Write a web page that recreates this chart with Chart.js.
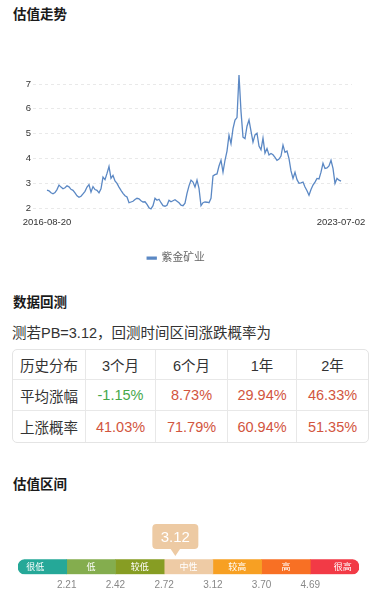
<!DOCTYPE html>
<html>
<head>
<meta charset="utf-8">
<script src="https://cdn.jsdelivr.net/npm/chart.js@4.4.0/dist/chart.umd.min.js"></script>
<style>
	body { margin: 0; width: 378px; height: 600px; background: #fff; position: relative; overflow: hidden;
		font-family: "Liberation Sans", "Noto Sans CJK SC", sans-serif; color: #333; }
	.title { position: absolute; left: 13px; font-size: 13.5px; font-weight: bold; line-height: 20px; color: #1a1a1a; }
	.sub { position: absolute; left: 12px; top: 323px; font-size: 14.5px; line-height: 20px; color: #333; }
	#trend-wrap { position: absolute; left: 0; top: 60px; width: 378px; height: 215px; }
	#range-wrap { position: absolute; left: 0; top: 515px; width: 378px; height: 85px; }
	#bt { position: absolute; left: 12px; top: 349px; width: 355px; border-collapse: separate; border-spacing: 0;
		border: 1px solid #e4e4e4; border-radius: 5px; table-layout: fixed; font-size: 14.5px; }
	#bt td { padding: 0; text-align: center; border-right: 1px solid #e8e8e8; border-bottom: 1px solid #e8e8e8; }
	#bt tr td:last-child { border-right: none; }
	#bt tr:last-child td { border-bottom: none; }
	#bt .up { color: #d2553e; }
	#bt .down { color: #45a84a; }
</style>
</head>
<body>
<div class="title" style="top:5px">估值走势</div>
<div id="trend-wrap"><canvas id="trend-chart"></canvas></div>

<div class="title" style="top:293px">数据回测</div>
<div class="sub">测若PB=3.12，回测时间区间涨跌概率为</div>
<table id="bt"></table>

<div class="title" style="top:475px">估值区间</div>
<div id="range-wrap"><canvas id="range-chart"></canvas></div>

<script>
// PB trend, one value every ~2 weeks
var stockName = '紫金矿业';
var xLabels = ['2016-08-20', '2023-07-02'];
var yTicks = [2, 3, 4, 5, 6, 7];
var pbValues = [
	2.73, 2.70, 2.62, 2.58, 2.63, 2.75, 2.93, 2.85, 2.78, 2.82,
	2.90, 2.86, 2.76, 2.72, 2.62, 2.50, 2.44, 2.48, 2.58, 2.68,
	2.85, 2.95, 2.65, 2.87, 2.75, 2.72, 2.62, 2.78, 3.25, 3.15,
	3.40, 3.68, 3.20, 3.32, 3.10, 3.00, 2.85, 2.72, 2.60, 2.50,
	2.45, 2.22, 2.25, 2.28, 2.35, 2.40, 2.38, 2.30, 2.25, 2.26,
	2.15, 2.02, 1.97, 2.10, 2.40, 2.32, 2.36, 2.22, 2.10, 2.08,
	2.12, 2.32, 2.26, 2.30, 2.34, 2.28, 2.22, 2.12, 2.10, 2.20,
	2.60, 2.90, 3.13, 3.05, 2.85, 3.13, 2.80, 2.10, 2.22, 2.25,
	2.24, 2.22, 2.40, 3.30, 3.35, 3.38, 3.70, 3.93, 3.45, 3.93,
	4.30, 4.94, 4.60, 5.20, 5.55, 5.65, 7.36, 5.90, 4.86, 4.80,
	5.30, 5.55, 5.10, 4.66, 4.95, 5.02, 4.50, 4.35, 4.82, 4.22,
	4.40, 4.14, 4.20, 4.15, 4.05, 3.93, 3.98, 4.10, 4.54, 4.25,
	4.30, 4.00, 3.50, 3.20, 3.45, 3.15, 3.00, 3.02, 3.05, 2.85,
	2.70, 2.52, 2.75, 2.93, 3.05, 3.20, 3.18, 3.45, 3.81, 3.60,
	3.62, 3.70, 3.93, 3.60, 3.00, 3.20, 3.13, 3.09
];

// back-test table
var periods = ['3个月', '6个月', '1年', '2年'];
var avgChange = [-1.15, 8.73, 29.94, 46.33];
var upProb = [41.03, 71.79, 60.94, 51.35];

// valuation bands
var bandNames = ['很低', '低', '较低', '中性', '较高', '高', '很高'];
var bandWidths = [1, 1, 1, 1, 1, 1, 1];
var bandColors = ['#25a898', '#84ad4e', '#879d23', '#eecba5', '#f7a023', '#f87024', '#f23a46'];
var bandThresholds = ['2.21', '2.42', '2.72', '3.12', '3.70', '4.69'];
var currentPB = '3.12';
var markerPos = 3.23;

function buildTable () {
	var html = '<colgroup><col style="width:73px"><col style="width:70px"><col style="width:72px"><col style="width:69px"><col style="width:71px"></colgroup>';
	html += '<tr style="height:30px"><td>历史分布</td>';
	periods.forEach(function (p) { html += '<td>' + p + '</td>'; });
	html += '</tr><tr style="height:31px"><td>平均涨幅</td>';
	avgChange.forEach(function (v) {
		html += '<td class="' + (v < 0 ? 'down' : 'up') + '">' + v.toFixed(2) + '%</td>';
	});
	html += '</tr><tr style="height:31px"><td>上涨概率</td>';
	upProb.forEach(function (v) {
		html += '<td class="' + (v < 0 ? 'down' : 'up') + '">' + v.toFixed(2) + '%</td>';
	});
	html += '</tr>';
	document.getElementById('bt').innerHTML = html;
}

function createTrendChart () {
	var last = pbValues.length - 1;
	new Chart('trend-chart', {
		type: 'line',
		data: {
			datasets: [{
				label: stockName,
				data: pbValues.map(function (v, i) { return {x: i, y: v}; }),
				borderColor: '#5b88c4',
				backgroundColor: '#5b88c4',
				borderWidth: 1.3,
				pointRadius: 0,
				tension: 0,
				clip: false
			}]
		},
		options: {
			responsive: true,
			maintainAspectRatio: false,
			animation: false,
			layout: { padding: { top: 11.6, right: 26, bottom: 1.5, left: 0 } },
			plugins: {
				tooltip: { enabled: false },
				legend: {
					position: 'bottom',
					labels: { boxWidth: 9, boxHeight: 2, padding: 10, color: '#666',
						font: { size: 10.8, family: '"Liberation Sans", "Noto Sans CJK SC", sans-serif' } }
				}
			},
			scales: {
				x: {
					type: 'linear',
					min: -7,
					max: last + 5.5,
					grid: { display: false, drawTicks: false },
					border: { display: false },
					afterBuildTicks: function (s) { s.ticks = [{value: 0}, {value: last}]; },
					afterFit: function (s) { s.height = 34.5; },
					ticks: {
						autoSkip: false, maxRotation: 0, padding: 8.5, color: '#333',
						font: { size: 9.5, family: '"Liberation Sans", sans-serif' },
						callback: function (v) { return v === 0 ? xLabels[0] : xLabels[1]; }
					}
				},
				y: {
					min: 2,
					max: 7.5,
					grid: { color: '#e9e9e9', drawTicks: false },
					border: { display: false, dash: [3, 3] },
					afterBuildTicks: function (s) { s.ticks = yTicks.map(function (v) { return {value: v}; }); },
					afterFit: function (s) { s.width = 33; },
					ticks: { padding: 2, color: '#333', font: { size: 9.5, family: '"Liberation Sans", sans-serif' } }
				}
			}
		}
	});
}

var bandLabels = {
	id: 'bandLabels',
	afterDatasetsDraw: function (chart) {
		var ctx = chart.ctx;
		ctx.save();
		ctx.fillStyle = '#fff';
		ctx.font = '9px "Noto Sans CJK SC", sans-serif';
		ctx.textAlign = 'center';
		ctx.textBaseline = 'middle';
		chart.data.datasets.forEach(function (ds, i) {
			var bar = chart.getDatasetMeta(i).data[0];
			var cx = (bar.x + bar.base) / 2;
			if (i === 0) cx -= 7;
			if (i === chart.data.datasets.length - 1) cx += 8;
			ctx.fillText(ds.label, cx, bar.y);
		});
		ctx.restore();
	},
	afterDraw: function (chart) {
		var ctx = chart.ctx;
		var x = chart.scales.x.getPixelForValue(markerPos);
		var w = 46, h = 25, top = 9, r = 4;
		ctx.save();
		ctx.fillStyle = '#edcaa3';
		ctx.beginPath();
		ctx.roundRect(x - w / 2, top, w, h, r);
		ctx.fill();
		ctx.beginPath();
		ctx.moveTo(x - 5, top + h - 0.5);
		ctx.lineTo(x + 5, top + h - 0.5);
		ctx.lineTo(x, top + h + 7);
		ctx.closePath();
		ctx.fill();
		ctx.fillStyle = '#fff';
		ctx.font = '15px "Liberation Sans", sans-serif';
		ctx.textAlign = 'center';
		ctx.textBaseline = 'middle';
		ctx.fillText(currentPB, x, top + h / 2 + 1);
		ctx.restore();
	}
};

function createRangeChart () {
	var n = bandNames.length;
	new Chart('range-chart', {
		type: 'bar',
		data: {
			labels: [''],
			datasets: bandNames.map(function (name, i) {
				var radius = 0;
				if (i === 0) radius = { topLeft: 8, bottomLeft: 8, topRight: 0, bottomRight: 0 };
				if (i === n - 1) radius = { topLeft: 0, bottomLeft: 0, topRight: 8, bottomRight: 8 };
				return {
					label: name,
					data: [bandWidths[i]],
					backgroundColor: bandColors[i],
					borderSkipped: false,
					borderRadius: radius,
					barPercentage: 1,
					categoryPercentage: 1
				};
			})
		},
		options: {
			indexAxis: 'y',
			responsive: true,
			maintainAspectRatio: false,
			animation: false,
			layout: { padding: { top: 44.3, right: 19, bottom: 9.4, left: 18 } },
			plugins: { legend: { display: false }, tooltip: { enabled: false } },
			scales: {
				x: {
					stacked: true,
					min: 0,
					max: n,
					grid: { display: false, drawTicks: false },
					border: { display: false },
					afterBuildTicks: function (s) {
						s.ticks = bandThresholds.map(function (t, i) { return {value: i + 1}; });
					},
					afterFit: function (s) { s.height = 16.3; },
					ticks: {
						autoSkip: false, maxRotation: 0, padding: 5, color: '#888',
						font: { size: 10, family: '"Liberation Sans", sans-serif' },
						callback: function (v) { return bandThresholds[v - 1]; }
					}
				},
				y: { stacked: true, display: false }
			}
		},
		plugins: [bandLabels]
	});
}

buildTable();
createTrendChart();
createRangeChart();
</script>
</body>
</html>
